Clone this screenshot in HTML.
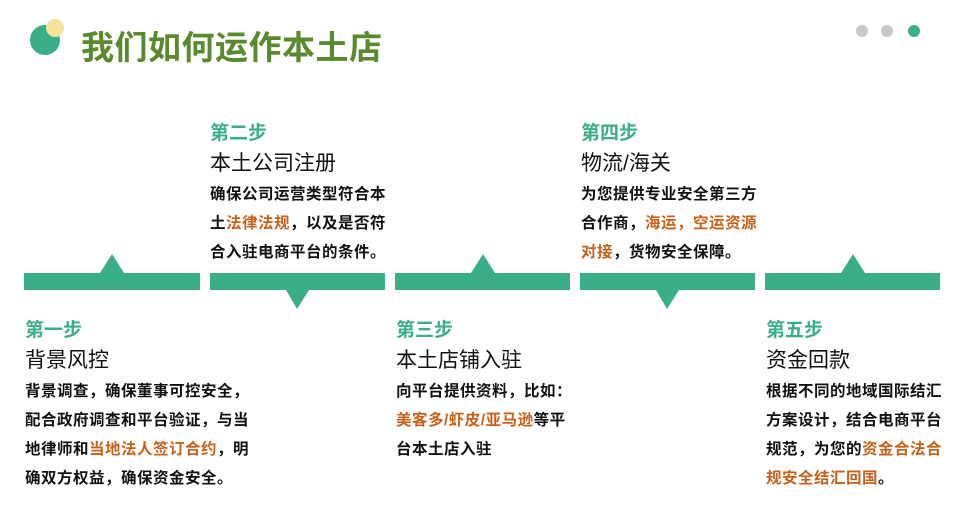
<!DOCTYPE html>
<html><head><meta charset="utf-8"><style>
body{margin:0;width:977px;height:519px;background:#fff;position:relative;overflow:hidden;font-family:"Liberation Sans","Noto Sans CJK SC",sans-serif}
.a{position:absolute;white-space:nowrap}
.h{font-size:19px;color:#3aaf85;font-weight:bold}
.t{font-size:21px;color:#111}
.b{font-size:15.5px;font-weight:bold;color:#111;letter-spacing:0.5px;line-height:29px}
.o{color:#c8611a}
.bar{position:absolute;top:273px;height:17px;background:#3aaf85}
</style></head><body>
<div class="a" style="left:30px;top:25px;width:30px;height:30px;border-radius:50%;background:#3aaf85"></div>
<div class="a" style="left:46px;top:19px;width:18px;height:18px;border-radius:50%;background:#f5e39a"></div>
<div class="a" style="left:81px;top:21px;font-size:33px;font-weight:bold;color:#5a8a2e;letter-spacing:0.5px">我们如何运作本土店</div>
<div class="a" style="left:856px;top:25px;width:12px;height:12px;border-radius:50%;background:#c8c8c8"></div>
<div class="a" style="left:881px;top:25px;width:12px;height:12px;border-radius:50%;background:#c8c8c8"></div>
<div class="a" style="left:908px;top:25px;width:12px;height:12px;border-radius:50%;background:#3aaf85"></div>

<div class="bar" style="left:24px;width:176px"></div>
<div class="bar" style="left:210px;width:175px"></div>
<div class="bar" style="left:395px;width:175px"></div>
<div class="bar" style="left:580px;width:175px"></div>
<div class="bar" style="left:765px;width:175px"></div>
<svg class="a" style="left:0;top:0" width="977" height="519">
<polygon points="100,273 112,254 124,273" fill="#3aaf85"/>
<polygon points="286,290 297,309 309,290" fill="#3aaf85"/>
<polygon points="471,273 483,254 495,273" fill="#3aaf85"/>
<polygon points="656,290 667,309 679,290" fill="#3aaf85"/>
<polygon points="841,273 853,254 865,273" fill="#3aaf85"/>
</svg>

<div class="a h" style="left:210px;top:118px">第二步</div>
<div class="a t" style="left:210px;top:147px">本土公司注册</div>
<div class="a b" style="left:210px;top:180px">确保公司运营类型符合本<br>土<span class="o">法律法规</span>，以及是否符<br>合入驻电商平台的条件。</div>

<div class="a h" style="left:581px;top:118px">第四步</div>
<div class="a t" style="left:581px;top:147px">物流/海关</div>
<div class="a b" style="left:581px;top:180px">为您提供专业安全第三方<br>合作商，<span class="o">海运，空运资源</span><br><span class="o">对接</span>，货物安全保障。</div>

<div class="a h" style="left:25px;top:315px">第一步</div>
<div class="a t" style="left:25px;top:344px">背景风控</div>
<div class="a b" style="left:25px;top:377px">背景调查，确保董事可控安全，<br>配合政府调查和平台验证，与当<br>地律师和<span class="o">当地法人签订合约</span>，明<br>确双方权益，确保资金安全。</div>

<div class="a h" style="left:396px;top:315px">第三步</div>
<div class="a t" style="left:396px;top:344px">本土店铺入驻</div>
<div class="a b" style="left:396px;top:377px">向平台提供资料，比如：<br><span class="o">美客多/虾皮/亚马逊</span>等平<br>台本土店入驻</div>

<div class="a h" style="left:766px;top:315px">第五步</div>
<div class="a t" style="left:766px;top:344px">资金回款</div>
<div class="a b" style="left:766px;top:377px">根据不同的地域国际结汇<br>方案设计，结合电商平台<br>规范，为您的<span class="o">资金合法合</span><br><span class="o">规安全结汇回国</span>。</div>
</body></html>
